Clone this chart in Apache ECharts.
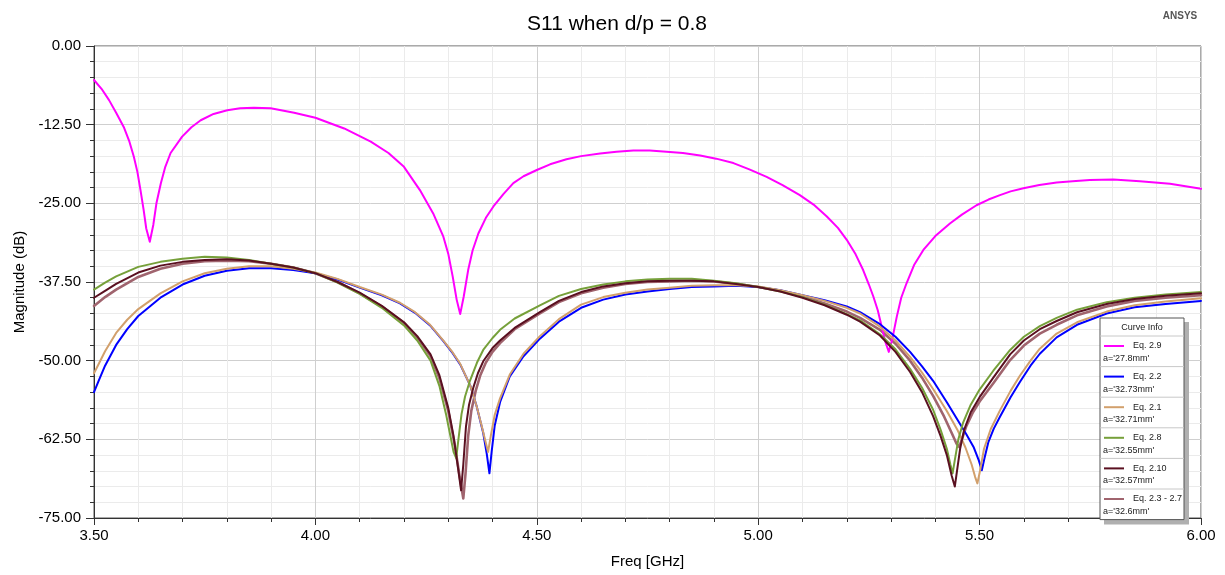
<!DOCTYPE html>
<html>
<head>
<meta charset="utf-8">
<script src="https://cdn.jsdelivr.net/npm/echarts@6/dist/echarts.min.js"></script>
<style>
html,body{margin:0;padding:0;background:#fff;}
#chart{width:1225px;height:575px;}
</style>
</head>
<body>
<div id="chart"></div>
<script>
// ---- data: [freq GHz, magnitude dB] ----
const eq29 = [[3.50,-5.4],[3.517,-6.8],[3.534,-8.6],[3.55,-10.6],[3.568,-13.0],[3.580,-15.2],[3.590,-17.6],[3.598,-20.0],[3.605,-22.9],[3.612,-26.0],[3.618,-29.0],[3.626,-31.1],[3.634,-28.4],[3.641,-25.0],[3.651,-21.8],[3.661,-19.2],[3.673,-17.0],[3.699,-14.4],[3.72,-12.9],[3.741,-11.8],[3.77,-10.8],[3.801,-10.2],[3.83,-9.9],[3.861,-9.8],[3.899,-9.9],[3.952,-10.6],[4.00,-11.4],[4.065,-13.1],[4.125,-15.2],[4.165,-17.0],[4.20,-19.2],[4.236,-22.9],[4.266,-26.6],[4.289,-30.3],[4.300,-33.0],[4.310,-36.6],[4.319,-40.3],[4.327,-42.6],[4.335,-39.8],[4.345,-35.6],[4.355,-32.5],[4.368,-29.8],[4.385,-27.3],[4.402,-25.5],[4.425,-23.5],[4.447,-21.8],[4.47,-20.7],[4.50,-19.7],[4.53,-18.8],[4.567,-18.0],[4.60,-17.5],[4.643,-17.1],[4.68,-16.8],[4.718,-16.6],[4.755,-16.6],[4.793,-16.8],[4.83,-17.0],[4.869,-17.4],[4.905,-17.9],[4.944,-18.6],[4.98,-19.6],[5.019,-20.8],[5.055,-22.1],[5.094,-23.7],[5.125,-25.2],[5.155,-27.1],[5.18,-28.9],[5.20,-30.8],[5.22,-33.1],[5.237,-35.6],[5.25,-37.9],[5.26,-39.8],[5.27,-42.0],[5.279,-44.6],[5.287,-47.0],[5.295,-48.6],[5.303,-46.5],[5.313,-43.0],[5.323,-40.0],[5.335,-37.7],[5.352,-34.8],[5.373,-32.4],[5.40,-30.2],[5.433,-28.2],[5.46,-26.8],[5.493,-25.3],[5.52,-24.4],[5.546,-23.7],[5.57,-23.1],[5.599,-22.6],[5.635,-22.1],[5.674,-21.7],[5.71,-21.5],[5.749,-21.3],[5.802,-21.2],[5.862,-21.5],[5.93,-21.9],[5.965,-22.3],[6.0,-22.7]];
const eq22 = [[3.50,-55.0],[3.51,-53.3],[3.525,-50.8],[3.55,-47.5],[3.575,-45.0],[3.60,-42.9],[3.65,-40.0],[3.70,-37.9],[3.75,-36.5],[3.80,-35.7],[3.85,-35.3],[3.90,-35.3],[3.95,-35.6],[4.00,-36.1],[4.05,-37.1],[4.10,-38.4],[4.15,-39.6],[4.191,-40.9],[4.225,-42.4],[4.259,-44.4],[4.289,-46.9],[4.31,-48.8],[4.327,-50.6],[4.35,-54.0],[4.364,-57.2],[4.379,-61.5],[4.387,-64.8],[4.393,-67.9],[4.398,-64.5],[4.405,-60.3],[4.417,-56.6],[4.439,-52.5],[4.47,-49.3],[4.507,-46.5],[4.55,-43.8],[4.60,-41.6],[4.65,-40.3],[4.70,-39.5],[4.75,-39.0],[4.80,-38.6],[4.85,-38.3],[4.90,-38.2],[4.95,-38.1],[5.00,-38.3],[5.05,-38.8],[5.10,-39.6],[5.15,-40.4],[5.20,-41.4],[5.23,-42.3],[5.275,-44.2],[5.31,-46.2],[5.343,-48.6],[5.37,-50.9],[5.395,-53.2],[5.426,-56.6],[5.45,-59.4],[5.47,-61.7],[5.487,-63.8],[5.498,-65.8],[5.505,-67.4],[5.511,-65.5],[5.52,-62.9],[5.532,-60.8],[5.546,-58.9],[5.57,-55.8],[5.591,-53.4],[5.615,-50.8],[5.636,-48.9],[5.674,-46.3],[5.72,-44.3],[5.787,-42.5],[5.85,-41.5],[5.92,-41.0],[6.0,-40.5]];
const eq21 = [[3.50,-52.0],[3.51,-50.6],[3.525,-48.5],[3.55,-45.6],[3.575,-43.5],[3.60,-41.8],[3.65,-39.3],[3.70,-37.4],[3.75,-36.1],[3.80,-35.4],[3.85,-35.0],[3.90,-35.0],[3.95,-35.4],[4.00,-36.0],[4.05,-37.0],[4.10,-38.3],[4.15,-39.5],[4.191,-40.8],[4.225,-42.3],[4.259,-44.3],[4.289,-46.8],[4.31,-48.7],[4.327,-50.5],[4.35,-54.0],[4.364,-57.2],[4.376,-60.5],[4.384,-62.8],[4.390,-64.5],[4.396,-62.0],[4.405,-58.6],[4.417,-56.0],[4.439,-52.2],[4.47,-48.9],[4.507,-46.1],[4.55,-43.4],[4.60,-41.1],[4.65,-39.9],[4.70,-39.2],[4.75,-38.7],[4.80,-38.4],[4.85,-38.1],[4.90,-38.0],[4.95,-38.0],[5.00,-38.2],[5.05,-38.8],[5.10,-39.6],[5.15,-40.5],[5.20,-41.6],[5.23,-42.5],[5.275,-44.6],[5.31,-46.8],[5.343,-49.4],[5.37,-51.9],[5.395,-54.5],[5.426,-58.0],[5.45,-61.0],[5.468,-63.8],[5.482,-66.5],[5.490,-68.5],[5.495,-69.5],[5.501,-67.5],[5.51,-64.0],[5.525,-60.9],[5.546,-57.9],[5.57,-54.8],[5.591,-52.4],[5.615,-50.0],[5.636,-48.1],[5.674,-45.7],[5.72,-43.9],[5.787,-42.2],[5.85,-41.2],[5.92,-40.6],[6.0,-40.1]];
const eq28 = [[3.50,-38.7],[3.525,-37.6],[3.55,-36.6],[3.60,-35.1],[3.65,-34.3],[3.70,-33.8],[3.75,-33.5],[3.80,-33.6],[3.85,-34.0],[3.90,-34.6],[3.95,-35.2],[4.00,-36.1],[4.05,-37.6],[4.10,-39.4],[4.15,-41.6],[4.20,-44.4],[4.23,-46.8],[4.26,-50.0],[4.28,-54.0],[4.295,-58.5],[4.305,-62.0],[4.312,-64.5],[4.318,-65.5],[4.323,-62.5],[4.330,-58.5],[4.338,-55.7],[4.349,-53.2],[4.365,-50.3],[4.379,-48.3],[4.40,-46.4],[4.417,-45.1],[4.45,-43.3],[4.507,-41.2],[4.55,-39.7],[4.60,-38.6],[4.65,-37.9],[4.70,-37.4],[4.75,-37.1],[4.80,-37.0],[4.85,-37.0],[4.90,-37.3],[4.95,-37.7],[5.00,-38.3],[5.05,-39.0],[5.10,-39.9],[5.15,-41.1],[5.20,-42.6],[5.23,-43.6],[5.275,-45.8],[5.31,-48.2],[5.343,-51.3],[5.37,-54.3],[5.395,-57.8],[5.412,-61.0],[5.426,-64.0],[5.434,-66.5],[5.439,-67.9],[5.444,-65.8],[5.452,-62.5],[5.463,-59.8],[5.48,-57.0],[5.50,-54.6],[5.531,-51.6],[5.569,-48.3],[5.60,-46.2],[5.636,-44.5],[5.674,-43.2],[5.72,-41.9],[5.787,-40.7],[5.85,-40.0],[5.92,-39.5],[6.0,-39.1]];
const eq210 = [[3.50,-40.0],[3.525,-38.9],[3.55,-37.8],[3.60,-36.0],[3.65,-34.9],[3.70,-34.3],[3.75,-34.0],[3.80,-33.9],[3.85,-34.1],[3.90,-34.6],[3.95,-35.2],[4.00,-36.1],[4.05,-37.5],[4.10,-39.2],[4.15,-41.3],[4.20,-43.9],[4.23,-46.1],[4.26,-49.0],[4.28,-52.3],[4.30,-57.5],[4.312,-62.0],[4.322,-67.0],[4.329,-70.6],[4.334,-66.5],[4.340,-60.5],[4.347,-57.0],[4.357,-54.2],[4.367,-52.0],[4.379,-50.1],[4.40,-48.0],[4.417,-46.8],[4.45,-44.8],[4.507,-42.3],[4.55,-40.5],[4.60,-39.1],[4.65,-38.2],[4.70,-37.7],[4.75,-37.4],[4.80,-37.3],[4.85,-37.3],[4.90,-37.4],[4.95,-37.8],[5.00,-38.3],[5.05,-39.0],[5.10,-40.0],[5.15,-41.2],[5.20,-42.7],[5.23,-43.8],[5.275,-46.0],[5.31,-48.6],[5.343,-51.8],[5.37,-55.0],[5.395,-58.8],[5.412,-62.0],[5.426,-65.0],[5.437,-68.3],[5.444,-70.0],[5.449,-67.5],[5.456,-64.0],[5.465,-61.0],[5.48,-58.2],[5.50,-55.8],[5.531,-52.7],[5.569,-49.0],[5.60,-46.8],[5.636,-45.0],[5.674,-43.7],[5.72,-42.3],[5.787,-41.0],[5.85,-40.2],[5.92,-39.7],[6.0,-39.3]];
const eq23 = [[3.50,-41.3],[3.525,-39.9],[3.55,-38.7],[3.60,-36.7],[3.65,-35.4],[3.70,-34.6],[3.75,-34.2],[3.80,-34.1],[3.85,-34.2],[3.90,-34.6],[3.95,-35.2],[4.00,-36.1],[4.05,-37.5],[4.10,-39.3],[4.15,-41.4],[4.20,-44.0],[4.23,-46.3],[4.26,-49.3],[4.28,-52.8],[4.30,-58.0],[4.315,-63.5],[4.326,-68.5],[4.334,-71.9],[4.339,-68.0],[4.345,-62.0],[4.352,-58.0],[4.362,-54.8],[4.372,-52.4],[4.385,-50.3],[4.40,-48.6],[4.417,-47.2],[4.45,-45.0],[4.507,-42.5],[4.55,-40.7],[4.60,-39.3],[4.65,-38.4],[4.70,-37.8],[4.75,-37.5],[4.80,-37.4],[4.85,-37.3],[4.90,-37.4],[4.95,-37.8],[5.00,-38.3],[5.05,-38.9],[5.10,-39.8],[5.15,-40.9],[5.20,-42.2],[5.23,-43.2],[5.275,-45.1],[5.31,-47.3],[5.343,-50.0],[5.37,-52.7],[5.395,-55.6],[5.42,-58.9],[5.437,-61.5],[5.448,-63.2],[5.454,-63.7],[5.460,-62.5],[5.470,-60.4],[5.485,-58.2],[5.50,-56.5],[5.531,-53.6],[5.569,-49.9],[5.60,-47.6],[5.636,-45.7],[5.674,-44.3],[5.72,-42.8],[5.787,-41.4],[5.85,-40.5],[5.92,-40.0],[6.0,-39.6]];

const seriesNames = ['Eq. 2.9','Eq. 2.2','Eq. 2.1','Eq. 2.8','Eq. 2.10','Eq. 2.3 - 2.7'];
const seriesParams = ["a='27.8mm'","a='32.73mm'","a='32.71mm'","a='32.55mm'","a='32.57mm'","a='32.6mm'"];
const seriesData = [eq29, eq22, eq21, eq28, eq210, eq23];
const seriesColors = ['#ff00ff','#0000ff','#d2a06c','#76a03a','#5a1020','#a0646e'];
const seriesWidths = [2,2,2,2,2,2.6];

const chart = echarts.init(document.getElementById('chart'), null, {renderer:'canvas'});
const FONT = 'Liberation Sans, Arial, sans-serif';

const series = seriesData.map((d,i)=>({
  name: seriesNames[i], type:'line', data:d, showSymbol:false, symbol:'none',
  smooth:false,
  lineStyle:{color:seriesColors[i], width:seriesWidths[i], join:'round', cap:'round'}, itemStyle:{color:seriesColors[i]},
  z: i===5 ? 2 : 3 + i, animation:false
}));

// legend box as graphic
const lg = {x:1100, y:318, w:84, hdr:18, row:30.6};
const gfx = [];
gfx.push({type:'rect', shape:{x:lg.x+4,y:lg.y+4,width:lg.w+1,height:lg.hdr+lg.row*6+1}, style:{fill:'#b0b0b0'}, z:100});
gfx.push({type:'rect', shape:{x:lg.x,y:lg.y,width:lg.w,height:lg.hdr+lg.row*6}, style:{fill:'#fff', stroke:'#555', lineWidth:1}, z:101});
gfx.push({type:'text', x:lg.x+lg.w/2, y:lg.y+9.5, style:{text:'Curve Info', fill:'#222', font:'9px '+FONT, textAlign:'center', textVerticalAlign:'middle'}, z:102});
for(let i=0;i<6;i++){
  const top = lg.y+lg.hdr+i*lg.row;
  gfx.push({type:'line', shape:{x1:lg.x,y1:top,x2:lg.x+lg.w,y2:top}, style:{stroke:'#c8c8c8', lineWidth:1}, z:102});
  gfx.push({type:'line', shape:{x1:lg.x+4,y1:top+10,x2:lg.x+24,y2:top+10}, style:{stroke:seriesColors[i], lineWidth:2}, z:102});
  gfx.push({type:'text', x:lg.x+33, y:top+10, style:{text:seriesNames[i], fill:'#222', font:'9px '+FONT, textVerticalAlign:'middle'}, z:102});
  gfx.push({type:'text', x:lg.x+3, y:top+22.5, style:{text:seriesParams[i], fill:'#222', font:'9px '+FONT, textVerticalAlign:'middle'}, z:102});
}
gfx.push({type:'text', x:1180, y:16, style:{text:'ANSYS', fill:'#555', font:'bold 10px '+FONT, textAlign:'center', textVerticalAlign:'middle'}, z:102});

chart.setOption({
  animation:false,
  backgroundColor:'#fff',
  title:{text:'S11 when d/p = 0.8', left:612, top:9, textAlign:'center',
    textStyle:{fontFamily:FONT, fontSize:21, fontWeight:'normal', color:'#000'}},
  grid:{left:94, right:24, top:46, bottom:57, show:true, borderColor:'#555', borderWidth:1},
  xAxis:{type:'value', min:3.5, max:6, interval:0.5,
    name:'Freq [GHz]', nameLocation:'middle', nameGap:36,
    nameTextStyle:{fontFamily:FONT, fontSize:15, color:'#000'},
    axisLine:{show:true, onZero:false, lineStyle:{color:'#333', width:1}},
    axisTick:{show:true, length:7, lineStyle:{color:'#333'}},
    minorTick:{show:true, splitNumber:5, length:4, lineStyle:{color:'#333'}},
    axisLabel:{fontFamily:FONT, fontSize:15, color:'#000', margin:10, formatter:v=>v.toFixed(2)},
    splitLine:{show:true, lineStyle:{color:'#cfcfcf', width:1}},
    minorSplitLine:{show:true, lineStyle:{color:'#ebebeb', width:1}}
  },
  yAxis:{type:'value', min:-75, max:0, interval:12.5,
    name:'Magnitude (dB)', nameLocation:'middle', nameGap:51,
    nameTextStyle:{fontFamily:FONT, fontSize:15, color:'#000'},
    axisLine:{show:true, onZero:false, lineStyle:{color:'#333', width:1}},
    axisTick:{show:true, length:8, lineStyle:{color:'#333'}},
    minorTick:{show:true, splitNumber:5, length:4, lineStyle:{color:'#333'}},
    axisLabel:{fontFamily:FONT, fontSize:15, color:'#000', margin:13, formatter:v=>v.toFixed(2)},
    splitLine:{show:true, lineStyle:{color:'#cfcfcf', width:1}},
    minorSplitLine:{show:true, lineStyle:{color:'#ebebeb', width:1}}
  },
  series: series,
  graphic: gfx
});
</script>
</body>
</html>
